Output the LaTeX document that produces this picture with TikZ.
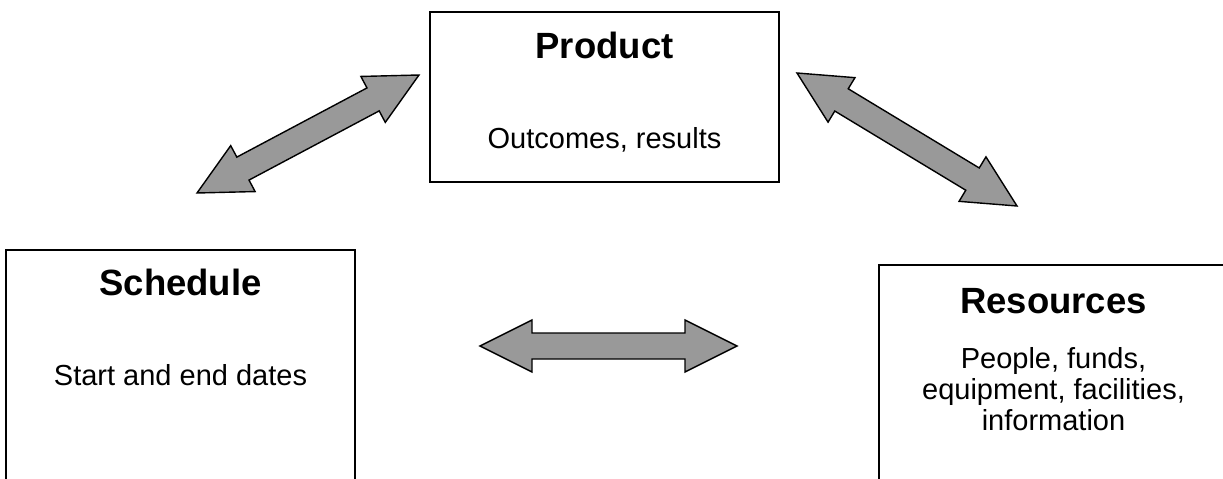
\documentclass[tikz,border=0pt]{standalone}
\usepackage{fontspec}
\setmainfont{Liberation Sans}
\usetikzlibrary{calc}
\definecolor{arrowgray}{RGB}{153,153,153}
\tikzset{
  box/.style={draw=black, line width=1.3pt, minimum width=349pt, minimum height=170pt,
              inner sep=0pt, outer sep=0pt, anchor=north west},
  boxtitle/.style={font=\fontsize{36.5}{42}\selectfont\bfseries, inner sep=0pt, anchor=base},
  boxtext/.style={font=\fontsize{29}{31.3}\selectfont, inner sep=0pt, anchor=base, align=center},
  blockarrow/.style={draw=black, fill=arrowgray, line width=1.4pt, line join=miter},
}
\newcommand{\dblblockarrow}[2]{%
  \draw[blockarrow] (#1)
    -- ($(#1)!52pt!(#2)!26pt!90:(#2)$)
    -- ($(#1)!52pt!(#2)!13pt!90:(#2)$)
    -- ($(#2)!52pt!(#1)!13pt!90:(#2)$)
    -- ($(#2)!52pt!(#1)!26pt!90:(#2)$)
    -- (#2)
    -- ($(#2)!52pt!(#1)!26pt!-90:(#2)$)
    -- ($(#2)!52pt!(#1)!13pt!-90:(#2)$)
    -- ($(#1)!52pt!(#2)!13pt!-90:(#2)$)
    -- ($(#1)!52pt!(#2)!26pt!-90:(#2)$)
    -- cycle;}
\begin{document}
\begin{tikzpicture}[x=1pt, y=-1pt]
  \path[use as bounding box, clip] (0,0) rectangle (1223,479);
  \fill[white] (0,0) rectangle (1223,479);

  % boxes
  \node[box] (product) at (430,12) {};
  \node[box, minimum height=260pt] (schedule) at (6,250) {};
  \node[box, minimum height=260pt] (resources) at (879,265) {};

  % texts
  \node[boxtitle] (producttitle) at ($(product.north)+(0,46)$) {Product};
  \node[boxtext] (producttext) at ($(product.north)+(0,136)$) {Outcomes, results};
  \node[boxtitle] (scheduletitle) at ($(schedule.north)+(0,45)$) {Schedule};
  \node[boxtext] (scheduletext) at ($(schedule.north)+(0,135)$) {Start and end dates};
  \node[boxtitle] (resourcestitle) at ($(resources.north)+(0,48)$) {Resources};
  \node[boxtext] (resourcestext) at ($(resources.north)+(0,165.6)$) {People, funds,\\equipment, facilities,\\information};

  % arrow tips
  \coordinate (a1s) at (197,193);
  \coordinate (a1e) at (419,75);
  \coordinate (a2s) at (480,346);
  \coordinate (a2e) at (737,346);
  \coordinate (a3s) at (797,73);
  \coordinate (a3e) at (1017,206);

  \dblblockarrow{a1s}{a1e}
  \dblblockarrow{a2s}{a2e}
  \dblblockarrow{a3s}{a3e}
\end{tikzpicture}
\end{document}
